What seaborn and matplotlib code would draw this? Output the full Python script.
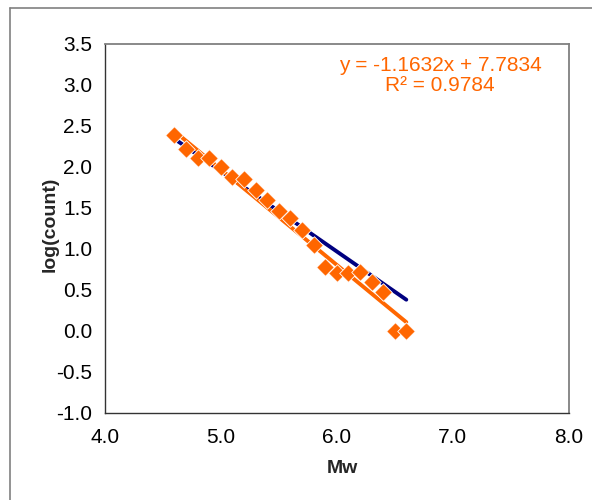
import numpy as np
import pandas as pd
import matplotlib
matplotlib.use("Agg")
import matplotlib.pyplot as plt
from matplotlib.lines import Line2D
import seaborn as sns

# Data
mw = [4.6, 4.7, 4.8, 4.9, 5.0, 5.1, 5.2, 5.3, 5.4, 5.5, 5.6,
      5.7, 5.8, 5.9, 6.0, 6.1, 6.2, 6.3, 6.4, 6.5, 6.6]
log_count = [2.38, 2.22, 2.11, 2.11, 2.00, 1.87, 1.85, 1.72, 1.60, 1.46, 1.38,
             1.23, 1.04, 0.78, 0.71, 0.71, 0.72, 0.59, 0.47, 0.00, 0.00]
navy_x = [4.6, 6.6]
navy_y = [2.34, 0.38]
slope = -1.1632
intercept = 7.7834
r2 = 0.9784
x_ticks = [4.0, 5.0, 6.0, 7.0, 8.0]
y_ticks = [-1.0, -0.5, 0.0, 0.5, 1.0, 1.5, 2.0, 2.5, 3.0, 3.5]

sns.set_style("white")
plt.rcParams['font.family'] = ['Liberation Sans', 'DejaVu Sans']

fig = plt.figure(figsize=(5.92, 5.0), dpi=100)
W, H = 592, 500
ax = fig.add_axes([104.7 / W, 1 - 413 / H, (568.7 - 104.7) / W, (413 - 43.5) / H])

orange = "#FF6600"
navy = "#000080"

df_pts = pd.DataFrame({"Mw": mw, "log(count)": log_count})
df_navy = pd.DataFrame({"Mw": navy_x, "log(count)": navy_y})
trend_x = [min(mw), max(mw)]
df_trend = pd.DataFrame({"Mw": trend_x,
                         "log(count)": [slope * v + intercept for v in trend_x]})

sns.lineplot(data=df_navy, x="Mw", y="log(count)", ax=ax, color=navy,
             linewidth=2.8, solid_capstyle="round", zorder=2)
sns.lineplot(data=df_trend, x="Mw", y="log(count)", ax=ax, color=orange,
             linewidth=2.8, solid_capstyle="round", zorder=3)
sns.scatterplot(data=df_pts, x="Mw", y="log(count)", ax=ax, color=orange,
                marker="D", s=80, edgecolor="white", linewidth=0.6, zorder=4)

ax.set_xlim(4.0, 8.0)
ax.set_ylim(-1.0, 3.5)
ax.set_xticks(x_ticks)
ax.set_yticks(y_ticks)
ax.set_xticklabels([f"{v:.1f}" for v in x_ticks])
ax.set_yticklabels([f"{v:.1f}" for v in y_ticks])
ax.tick_params(axis="both", direction="out", length=4, width=1, color="#333333",
               labelsize=15, labelcolor="black")
ax.tick_params(axis="x", pad=7)
ax.tick_params(axis="y", pad=5)

for sp in ax.spines.values():
    sp.set_visible(True)
    sp.set_color("#808080")
    sp.set_linewidth(1.3)
ax.spines["left"].set_color("#333333")
ax.spines["bottom"].set_color("#333333")
ax.spines["left"].set_linewidth(1.0)
ax.spines["bottom"].set_linewidth(1.0)

ax.set_xlabel("Mw", fontsize=14, fontweight="bold")
ax.set_ylabel("log(count)", fontsize=14, fontweight="bold")
ax.xaxis.set_label_coords(0.513, -0.128)
ax.yaxis.set_label_coords(-0.10, 0.51)

ax.text(6.89, 3.35, f"y = {slope:.4f}x + {intercept:.4f}\nR\u00b2 = {r2:.4f}",
        ha="center", va="top", color=orange, fontsize=15, linespacing=1.05)

# outer chart border (top and left edges visible)
fig.add_artist(Line2D([9.5 / W, 1.0], [1 - 8 / H, 1 - 8 / H],
                      transform=fig.transFigure, color="#808080", linewidth=1.2))
fig.add_artist(Line2D([9.5 / W, 9.5 / W], [0.0, 1 - 8 / H],
                      transform=fig.transFigure, color="#808080", linewidth=1.2))

fig.savefig("out.png", dpi=100)
